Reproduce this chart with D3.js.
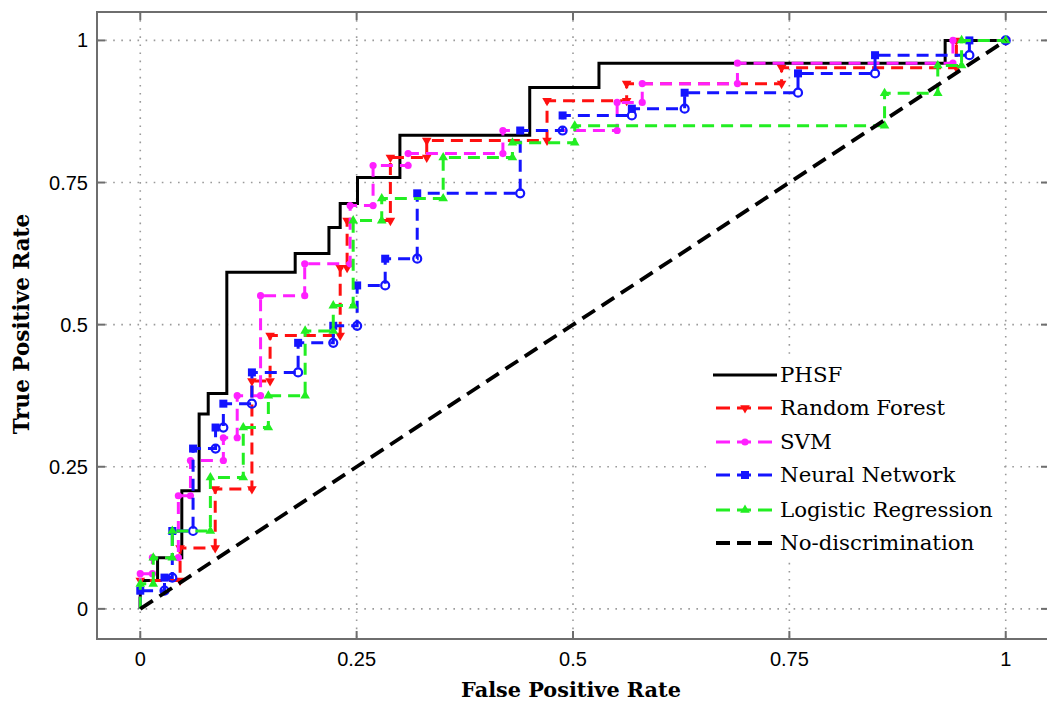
<!DOCTYPE html>
<html>
<head>
<meta charset="utf-8">
<script src="https://cdn.jsdelivr.net/npm/d3@7"></script>
<style>
  html, body { margin: 0; padding: 0; background: #fff; }
  svg { display: block; }
</style>
</head>
<body>
<svg id="chart" width="1047" height="701"></svg>
<script>
// ROC curves: each array is a list of [false positive rate, true positive rate] vertices.
const phsf = [[0,0],[0,0.05],[0.02,0.05],[0.02,0.09],[0.048,0.09],[0.048,0.208],[0.068,0.208],[0.068,0.343],[0.0785,0.343],[0.0785,0.379],[0.1,0.379],[0.1,0.592],[0.179,0.592],[0.179,0.625],[0.218,0.625],[0.218,0.671],[0.231,0.671],[0.231,0.713],[0.251,0.713],[0.251,0.759],[0.3,0.759],[0.3,0.833],[0.45,0.833],[0.45,0.917],[0.53,0.917],[0.53,0.96],[0.93,0.96],[0.93,1],[1,1]];

const randomForest = [[0,0],[0,0.05],[0.046,0.05],[0.046,0.107],[0.0866,0.107],[0.0866,0.211],[0.129,0.211],[0.129,0.401],[0.15,0.401],[0.15,0.481],[0.231,0.481],[0.231,0.6],[0.239,0.6],[0.239,0.683],[0.289,0.683],[0.289,0.794],[0.331,0.794],[0.331,0.824],[0.47,0.824],[0.47,0.894],[0.562,0.894],[0.562,0.924],[0.741,0.924],[0.741,0.952],[0.943,0.952],[0.943,1],[1,1]];

const svm = [[0,0],[0,0.062],[0.014,0.062],[0.014,0.09],[0.044,0.09],[0.044,0.199],[0.058,0.199],[0.058,0.261],[0.096,0.261],[0.096,0.301],[0.112,0.301],[0.112,0.375],[0.139,0.375],[0.139,0.551],[0.19,0.551],[0.19,0.607],[0.2425,0.607],[0.2425,0.7095],[0.269,0.7095],[0.269,0.78],[0.3095,0.78],[0.3095,0.801],[0.419,0.801],[0.419,0.8415],[0.551,0.8415],[0.551,0.891],[0.58,0.891],[0.58,0.924],[0.69,0.924],[0.69,0.96],[0.939,0.96],[0.939,1],[1,1]];

const neuralNetwork = [[0,0],[0,0.032],[0.028,0.032],[0.028,0.055],[0.037,0.055],[0.037,0.137],[0.061,0.137],[0.061,0.282],[0.087,0.282],[0.087,0.319],[0.096,0.319],[0.096,0.361],[0.129,0.361],[0.129,0.416],[0.1824,0.416],[0.1824,0.468],[0.223,0.468],[0.223,0.498],[0.2506,0.498],[0.2506,0.569],[0.283,0.569],[0.283,0.616],[0.32,0.616],[0.32,0.731],[0.439,0.731],[0.439,0.8415],[0.488,0.8415],[0.488,0.868],[0.568,0.868],[0.568,0.88],[0.629,0.88],[0.629,0.908],[0.76,0.908],[0.76,0.942],[0.849,0.942],[0.849,0.974],[0.958,0.974],[0.958,1],[1,1]];

const logisticRegression = [[0,0],[0,0.044],[0.015,0.044],[0.015,0.09],[0.037,0.09],[0.037,0.137],[0.081,0.137],[0.081,0.231],[0.119,0.231],[0.119,0.319],[0.148,0.319],[0.148,0.375],[0.1905,0.375],[0.1905,0.489],[0.223,0.489],[0.223,0.5335],[0.246,0.5335],[0.246,0.683],[0.279,0.683],[0.279,0.722],[0.35,0.722],[0.35,0.794],[0.43,0.794],[0.43,0.82],[0.502,0.82],[0.502,0.85],[0.86,0.85],[0.86,0.907],[0.9215,0.907],[0.9215,0.956],[0.949,0.956],[0.949,1],[1,1]];

const noDiscrimination = [[0,0],[1,1]];

const xTicks = [0, 0.25, 0.5, 0.75, 1];
const yTicks = [0, 0.25, 0.5, 0.75, 1];
const xTickLabels = ["0", "0.25", "0.5", "0.75", "1"];
const yTickLabels = ["0", "0.25", "0.5", "0.75", "1"];

const seriesNames = ["PHSF", "Random Forest", "SVM", "Neural Network", "Logistic Regression", "No-discrimination"];

// ---- layout ----
const svg = d3.select("#chart");
const plotLeft = 97, plotRight = 1049, plotTop = 12, plotBottom = 639;
const x = d3.scaleLinear().domain([-0.05, 1.05]).range([plotLeft, plotRight]);
const y = d3.scaleLinear().domain([-0.053, 1.05]).range([plotBottom, plotTop]);

const axisColor = "#6e6e6e";

// dotted grid
const grid = svg.append("g");
grid.selectAll("line.gx").data(xTicks).join("line")
  .attr("x1", d => x(d)).attr("x2", d => x(d))
  .attr("y1", plotTop).attr("y2", plotBottom)
  .attr("stroke", "#9a9a9a").attr("stroke-width", 1.6).attr("stroke-dasharray", "1.6,6.5");
grid.selectAll("line.gy").data(yTicks).join("line")
  .attr("x1", plotLeft).attr("x2", plotRight)
  .attr("y1", d => y(d)).attr("y2", d => y(d))
  .attr("stroke", "#9a9a9a").attr("stroke-width", 1.6).attr("stroke-dasharray", "1.6,6.5");

// curves
const line = d3.line().x(d => x(d[0])).y(d => y(d[1]));
const plot = svg.append("g");

const styles = [
  { data: phsf, color: "#000000", dash: null, width: 3, marker: null },
  { data: randomForest, color: "#ff1010", dash: "12,7", width: 3, marker: "triDown" },
  { data: svm, color: "#ff20ff", dash: "12,7", width: 3, marker: "circle" },
  { data: neuralNetwork, color: "#1414ff", dash: "12,7", width: 3, marker: "circSquare" },
  { data: logisticRegression, color: "#22ee22", dash: "12,7", width: 3, marker: "triUp" },
  { data: noDiscrimination, color: "#000000", dash: "15,8", width: 3.8, marker: null }
];

function drawMarker(g, type, px, py, color, i) {
  if (type === "triDown") {
    g.append("path").attr("d", d3.symbol(d3.symbolTriangle, 40)())
      .attr("transform", `translate(${px},${py}) rotate(180)`).attr("fill", color);
  } else if (type === "triUp") {
    g.append("path").attr("d", d3.symbol(d3.symbolTriangle, 40)())
      .attr("transform", `translate(${px},${py})`).attr("fill", color);
  } else if (type === "circle") {
    g.append("circle").attr("cx", px).attr("cy", py).attr("r", 3.6).attr("fill", color);
  } else if (type === "circSquare") {
    if (i % 2 === 0) {
      g.append("circle").attr("cx", px).attr("cy", py).attr("r", 4)
        .attr("fill", "none").attr("stroke", color).attr("stroke-width", 2.2);
    } else {
      g.append("rect").attr("x", px - 4).attr("y", py - 4).attr("width", 8).attr("height", 8).attr("fill", color);
    }
  }
}

styles.forEach(s => {
  const p = plot.append("path").datum(s.data).attr("d", line)
    .attr("fill", "none").attr("stroke", s.color).attr("stroke-width", s.width)
    .attr("stroke-linejoin", "miter");
  if (s.dash) p.attr("stroke-dasharray", s.dash);
  if (s.marker) {
    const mg = plot.append("g");
    s.data.forEach((d, i) => {
      if (i === 0) return;
      drawMarker(mg, s.marker, x(d[0]), y(d[1]), s.color, i);
    });
  }
});

// axes box
svg.append("rect").attr("x", plotLeft).attr("y", plotTop)
  .attr("width", plotRight - plotLeft).attr("height", plotBottom - plotTop)
  .attr("fill", "none").attr("stroke", axisColor).attr("stroke-width", 2);

// inward tick marks
const tk = svg.append("g").attr("stroke", axisColor).attr("stroke-width", 2);
xTicks.forEach(t => {
  tk.append("line").attr("x1", x(t)).attr("x2", x(t)).attr("y1", plotBottom).attr("y2", plotBottom - 8);
  tk.append("line").attr("x1", x(t)).attr("x2", x(t)).attr("y1", plotTop).attr("y2", plotTop + 8);
});
yTicks.forEach(t => {
  tk.append("line").attr("x1", plotLeft).attr("x2", plotLeft + 8).attr("y1", y(t)).attr("y2", y(t));
  tk.append("line").attr("x1", plotRight).attr("x2", plotRight - 8).attr("y1", y(t)).attr("y2", y(t));
});

// tick labels
const lab = svg.append("g").attr("font-family", "Liberation Sans, Arial, sans-serif").attr("font-size", 20).attr("fill", "#000");
xTicks.forEach((t, i) => {
  lab.append("text").attr("x", x(t)).attr("y", 666).attr("text-anchor", "middle").text(xTickLabels[i]);
});
yTicks.forEach((t, i) => {
  lab.append("text").attr("x", 88).attr("y", y(t) + 7).attr("text-anchor", "end").text(yTickLabels[i]);
});

// axis titles
const titleFont = "DejaVu Serif, serif";
svg.append("text").attr("x", 571).attr("y", 697).attr("text-anchor", "middle")
  .attr("font-family", titleFont).attr("font-weight", "bold").attr("font-size", 20.8)
  .text("False Positive Rate");
svg.append("text").attr("transform", "translate(29,324) rotate(-90)").attr("text-anchor", "middle")
  .attr("font-family", titleFont).attr("font-weight", "bold").attr("font-size", 21.5)
  .text("True Positive Rate");

// legend
const lg = svg.append("g");
lg.append("rect").attr("x", 706).attr("y", 356).attr("width", 296).attr("height", 204).attr("fill", "#fff");
const rowY = [375, 408, 442, 475, 510, 543];
styles.forEach((s, i) => {
  const ly = rowY[i];
  const l = lg.append("line").attr("x1", 713).attr("x2", 777).attr("y1", ly).attr("y2", ly)
    .attr("stroke", s.color).attr("stroke-width", s.width);
  if (s.dash) l.attr("stroke-dasharray", "14,7").attr("stroke-dashoffset", -3);
  if (s.marker === "circSquare") {
    lg.append("rect").attr("x", 741).attr("y", ly - 4).attr("width", 8).attr("height", 8).attr("fill", s.color);
  } else if (s.marker) {
    drawMarker(lg, s.marker, 745, ly, s.color, 1);
  }
  lg.append("text").attr("x", 780).attr("y", ly + 7)
    .attr("font-family", "DejaVu Serif, serif").attr("font-size", 21.3).attr("fill", "#000")
    .text(seriesNames[i]);
});
</script>
</body>
</html>
